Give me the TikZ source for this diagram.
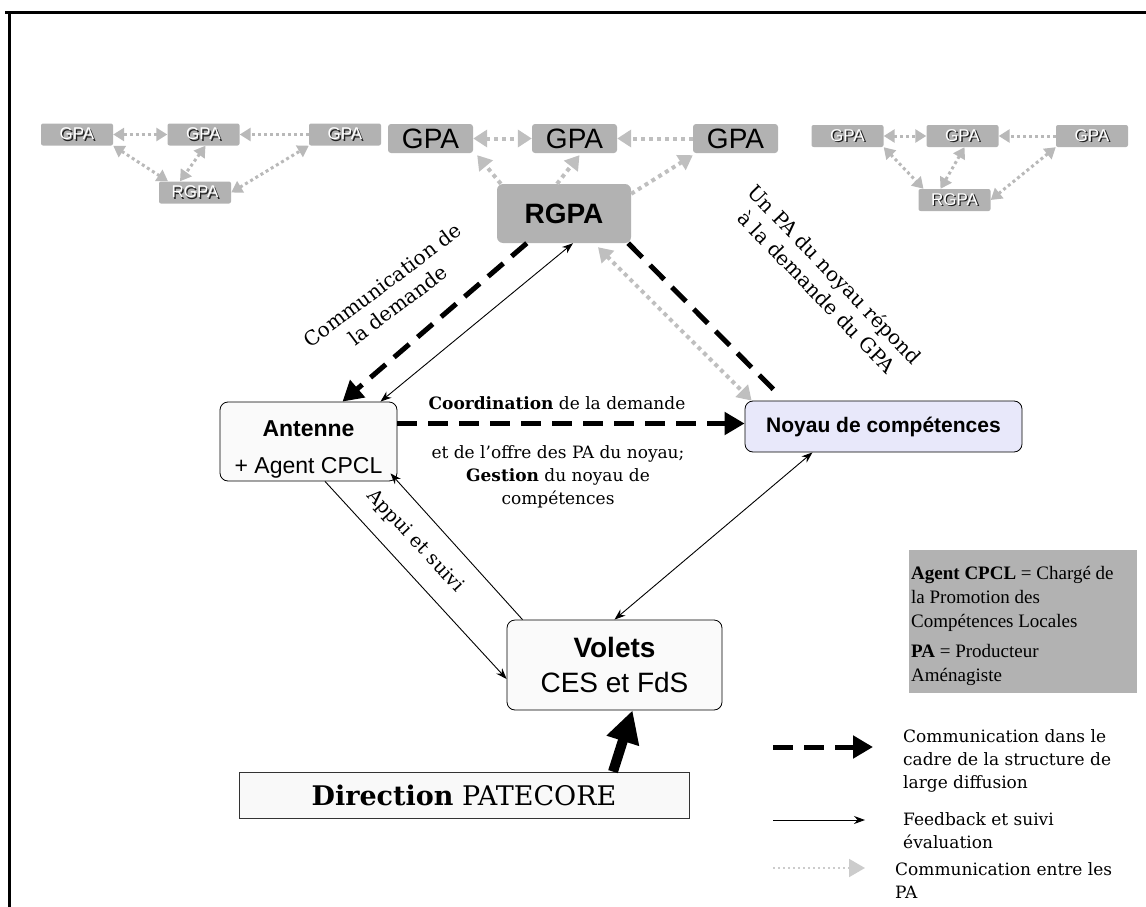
\documentclass[tikz,border=0pt]{standalone}
\usepackage{fontspec}
\setmainfont{DejaVu Serif}
\setsansfont{Liberation Sans}
\newfontfamily\timesfont{Liberation Serif}
\usetikzlibrary{arrows.meta,positioning,calc}
\definecolor{noyaufill}{RGB}{232,232,250}
\newcommand{\embossed}[1]{\makebox[0pt][l]{\hspace{1.4pt}\raisebox{-1.4pt}{\textcolor{gray!25!black}{#1}}}\textcolor{white}{#1}}

\begin{document}
\begin{tikzpicture}[x=1pt, y=-1pt,
        sgpa/.style={rectangle, rounded corners=2pt, fill=gray!60, minimum width=72pt, minimum height=22pt, inner sep=0pt, font=\sffamily\fontsize{17}{17}\selectfont},
        mgpa/.style={rectangle, rounded corners=3pt, fill=gray!60, minimum width=85pt, minimum height=29pt, inner sep=0pt, font=\sffamily\fontsize{28}{28}\selectfont},
        box/.style={rectangle, rounded corners=8pt, draw=black, line width=0.8pt, fill=gray!4, align=center, inner sep=0pt},
        dashcom/.style={line width=5pt, dash pattern=on 20pt off 11pt, -{Triangle[length=20pt,width=22pt]}},
        feed/.style={line width=0.9pt, -{Stealth[length=11pt,width=8pt]}},
        feedboth/.style={line width=0.9pt, {Stealth[length=11pt,width=8pt]}-{Stealth[length=11pt,width=8pt]}},
        pacom/.style={gray!50, line width=4pt, dash pattern=on 4pt off 4pt, -{Triangle[length=14pt,width=17pt]}},
        pacomboth/.style={gray!50, line width=4pt, dash pattern=on 4pt off 4pt, {Triangle[length=14pt,width=17pt]}-{Triangle[length=14pt,width=17pt]}},
        spacom/.style={gray!55, line width=3pt, dash pattern=on 3pt off 3pt, -{Triangle[length=11pt,width=13pt]}},
        spacomboth/.style={gray!55, line width=3pt, dash pattern=on 3pt off 3pt, {Triangle[length=11pt,width=13pt]}-{Triangle[length=11pt,width=13pt]}},
        lbl/.style={font=\fontsize{20}{25}\selectfont, align=center, inner sep=0pt},
        legtxt/.style={font=\fontsize{17}{23}\selectfont, align=left, anchor=west, inner sep=0pt}]
        \useasboundingbox (0,0) rectangle (1146,907);
        % Frame
        \draw[line width=3pt] (5,13) -- (1146,13);
        \draw[line width=3pt] (9,13) -- (9,907);
        % Left group
        \node[sgpa] (lg1) at (77,134.5)  {\embossed{GPA}};
        \node[sgpa] (lg2) at (203.5,134.5) {\embossed{GPA}};
        \node[sgpa] (lg3) at (345,134.5) {\embossed{GPA}};
        \node[sgpa] (lr)  at (195,192.5) {\embossed{RGPA}};
        \draw[spacomboth] (lg1.east) -- (lg2.west);
        \draw[spacom] (lg3.west) -- (lg2.east);
        \draw[spacomboth] (lg1.south east) -- ([xshift=-27pt]lr.north);
        \draw[spacomboth] ([xshift=2pt]lg2.south) -- ([xshift=-15pt]lr.north);
        \draw[spacomboth] (lr.east) -- (lg3.south west);
        % Right group
        \node[sgpa] (rg1) at (847.5,136) {\embossed{GPA}};
        \node[sgpa] (rg2) at (962.5,136) {\embossed{GPA}};
        \node[sgpa] (rg3) at (1092,136)  {\embossed{GPA}};
        \node[sgpa] (rr)  at (954.5,200) {\embossed{RGPA}};
        \draw[spacomboth] (rg1.east) -- (rg2.west);
        \draw[spacom] (rg3.west) -- (rg2.east);
        \draw[spacomboth] (rg1.south east) -- ([xshift=-31pt]rr.north);
        \draw[spacomboth] ([xshift=2pt]rg2.south) -- ([xshift=-14pt]rr.north);
        \draw[spacomboth] (rr.east) -- (rg3.south west);
        % Middle group
        \node[mgpa] (mg1) at (430.5,138.5) {GPA};
        \node[mgpa] (mg2) at (574.5,138.5) {GPA};
        \node[mgpa] (mg3) at (735.5,138.5) {GPA};
        \node[mgpa, rounded corners=6pt, minimum width=134pt, minimum height=59pt, font=\sffamily\bfseries\fontsize{28}{28}\selectfont] (rgpa) at (564,213.5) {RGPA};
        \draw[pacomboth] (mg1.east) -- (mg2.west);
        \draw[pacom] (mg3.west) -- (mg2.east);
        \draw[pacom] ([xshift=4pt]rgpa.north west) -- ([xshift=4pt,yshift=-2pt]mg1.south east);
        \draw[pacom] ([xshift=-7pt]rgpa.north) -- ([xshift=5pt,yshift=-2pt]mg2.south);
        \draw[pacom] ([yshift=-10pt]rgpa.north east) -- ([yshift=-2pt]mg3.south west);
        % Main boxes
        \node[box, minimum width=177pt, minimum height=79pt, font=\sffamily\fontsize{23}{37}\selectfont] (ant) at (308.5,441.5) {\rule{0pt}{31pt}\textbf{Antenne}\\+ Agent CPCL};
        \node[box, fill=noyaufill, minimum width=277pt, minimum height=51pt, font=\sffamily\bfseries\fontsize{21}{21}\selectfont] (noy) at (883.5,426.5) {Noyau de compétences};
        \node[box, minimum width=215pt, minimum height=90pt, font=\sffamily\fontsize{28}{35}\selectfont] (vol) at (614.5,665) {\textbf{Volets}\\CES et FdS};
        \node[rectangle, draw=gray!40!black, line width=0.8pt, fill=gray!5, minimum width=450pt, minimum height=46pt, font=\fontsize{27}{27}\selectfont] (dir) at (464,795) {\textbf{Direction} PATECORE};
        % Large diffusion
        \draw[dashcom] ([xshift=30pt]rgpa.south west) -- ([xshift=34pt]ant.north);
        \draw[line width=5pt, dash pattern=on 20pt off 11pt] ([xshift=-3pt]rgpa.south east) -- ([xshift=32pt,yshift=8pt]noy.north west);
        \draw[dashcom] ([yshift=18pt]ant.east) -- ([yshift=3pt]noy.west);
        \draw[pacomboth] ([xshift=34pt,yshift=-4pt]rgpa.south) -- ([xshift=7pt]noy.north west);
        % Feedback
        \draw[feedboth] ([xshift=72pt]ant.north) -- ([xshift=9pt]rgpa.south);
        \draw[feedboth] ([xshift=-71pt]noy.south) -- (vol.north);
        \draw[feed] ([xshift=16.5pt]ant.south) -- ([yshift=-14pt]vol.west);
        \draw[feed] ([xshift=-92pt]vol.north) -- ([xshift=82pt,yshift=8pt]ant.south);
        \draw[line width=10pt, -{Triangle[length=32pt,width=32pt]}] ([xshift=149pt]dir.north) -- ([xshift=18pt]vol.south);
        % Labels
        \node[lbl, rotate=37] (lblcom) at (390,295) {Communication de\\la demande};
        \node[lbl, rotate=-46] (lblpa) at (826,283) {Un PA du noyau répond\\à la demande du GPA};
        \node[lbl, rotate=-47, font=\fontsize{19}{23}\selectfont] (lblappui) at (415,541) {Appui et suivi};
        \node[lbl, font=\fontsize{17}{23}\selectfont] (lblcoord) at (557,403) {\textbf{Coordination} de la demande};
        \node[lbl, font=\fontsize{17}{23}\selectfont] (lblgest) at (558,477) {et de l’offre des PA du noyau;\\\textbf{Gestion} du noyau de\\compétences};
        % Glossary
        \node[rectangle, fill=gray!60, minimum width=228pt, minimum height=143pt, inner sep=0pt] (gloss) at (1023,621.5) {};
        \node[anchor=north west, align=left, inner sep=0pt, font=\timesfont\fontsize{19}{24}\selectfont] (glosstxt) at (911,566) {\textbf{Agent CPCL} = Chargé de\\la Promotion des\\Compétences Locales\\[6pt]\textbf{PA} = Producteur\\Aménagiste};
        % Legend
        \coordinate (l1a) at (773,747);
        \coordinate (l1b) at (873,747);
        \coordinate (l2a) at (773,820);
        \coordinate (l2b) at (865,820);
        \coordinate (l3a) at (773,868);
        \coordinate (l3b) at (865,868);
        \draw[line width=5pt, dash pattern=on 20pt off 11pt, -{Triangle[length=20pt,width=22pt]}] (l1a) -- (l1b);
        \draw[feed] (l2a) -- (l2b);
        \draw[gray!40, line width=2pt, dash pattern=on 2pt off 3pt, -{Triangle[length=16pt,width=18pt]}] (l3a) -- (l3b);
        \node[legtxt] (leg1) at (903,761) {Communication dans le\\cadre de la structure de\\large diffusion};
        \node[legtxt] (leg2) at (903,830.5) {Feedback et suivi\\évaluation};
        \node[legtxt] (leg3) at (895,880.5) {Communication entre les\\PA};
    \end{tikzpicture}
\end{document}
